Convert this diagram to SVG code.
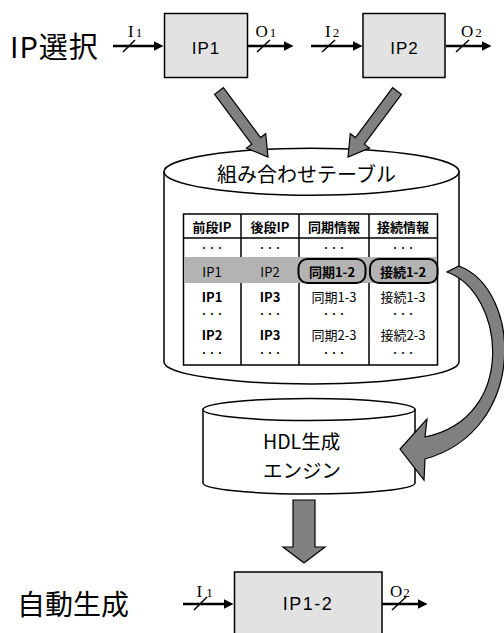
<svg xmlns="http://www.w3.org/2000/svg" width="504" height="633" viewBox="0 0 504 633">
<defs>
<marker id="ah" markerUnits="userSpaceOnUse" markerWidth="10" markerHeight="10" refX="4" refY="4.5" orient="auto" viewBox="0 0 9 9"><path d="M0,0 L9,4.5 L0,9 Z" fill="#000"/></marker>
</defs>
<style>
.box{fill:#e2e2e2;stroke:#000;stroke-width:1.5}
.cyl{fill:#fff;stroke:#000;stroke-width:1.5}
.big{fill:#808080;stroke:#000;stroke-width:1.2}
.wire{stroke:#000;stroke-width:2.5;fill:none;marker-end:url(#ah)}
.slash{stroke:#000;stroke-width:1.5}
.jp{font-family:"Noto Sans CJK JP","Liberation Sans",sans-serif;fill:#000;dominant-baseline:central}
.lab{font-family:"Liberation Sans",Arial,sans-serif;fill:#000;text-anchor:middle;dominant-baseline:central}
.ser{font-family:"Liberation Serif","Times New Roman",serif;font-size:17px;fill:#000}
.sub{font-size:13px}
.th{font-family:"Noto Sans CJK JP",sans-serif;font-size:13px;font-weight:bold;text-anchor:middle;dominant-baseline:central;fill:#000}
.tn{font-weight:normal}
.dot{font-size:10px;letter-spacing:3px}
.grid{stroke:#000;stroke-width:1.5;fill:none}
</style>
<rect width="504" height="633" fill="#fff"/>

<text class="jp" x="10" y="45" font-size="29" letter-spacing="1">IP選択</text>
<text class="jp" x="17" y="603" font-size="28">自動生成</text>

<g id="ip1">
<rect class="box" x="164.5" y="13.5" width="83" height="64"/>
<text class="lab" x="206" y="48.5" font-size="17" letter-spacing="1">IP1</text>
</g>
<g id="ip2">
<rect class="box" x="363" y="13.5" width="82" height="64"/>
<text class="lab" x="404.5" y="48.5" font-size="17" letter-spacing="1">IP2</text>
</g>

<g id="table">
<path class="cyl" d="M164,171.7 L164,362 A147.5,22 0 0 0 459,362 L459,171.7 Z"/>
<ellipse class="cyl" cx="311.5" cy="171.7" rx="147.5" ry="23.5"/>
<text class="jp" x="306.5" y="173" font-size="20" text-anchor="middle">組み合わせテーブル</text>
<rect x="183.5" y="214" width="254" height="151" fill="#fff" stroke="#000" stroke-width="1.5"/>
<path class="grid" d="M183.5,238 H437.5 M241,214 V365 M299,214 V365 M369,214 V365"/>
<rect x="184" y="257" width="253" height="26" fill="#b3b3b3"/>
<rect x="298.5" y="259" width="67" height="24" rx="9" fill="#b3b3b3" stroke="#000" stroke-width="2"/>
<rect x="370" y="259" width="67.5" height="24" rx="9" fill="#b3b3b3" stroke="#000" stroke-width="2"/>
<g class="th">
<text x="212" y="226">前段IP</text><text x="270" y="226">後段IP</text><text x="334" y="226">同期情報</text><text x="403" y="226">接続情報</text>
<text class="dot" x="213.5" y="247">･･･</text><text class="dot" x="271.5" y="247">･･･</text><text class="dot" x="335.5" y="247">･･･</text><text class="dot" x="404.5" y="247">･･･</text>
<text class="tn" x="212" y="271">IP1</text><text class="tn" x="270" y="271">IP2</text><text x="332" y="271">同期1-2</text><text x="403" y="271">接続1-2</text>
<text x="212" y="296">IP1</text><text x="270" y="296">IP3</text><text class="tn" x="334" y="296">同期1-3</text><text class="tn" x="403" y="296">接続1-3</text>
<text class="dot" x="213.5" y="313">･･･</text><text class="dot" x="271.5" y="313">･･･</text><text class="dot" x="335.5" y="313">･･･</text><text class="dot" x="404.5" y="313">･･･</text>
<text x="212" y="334">IP2</text><text x="270" y="334">IP3</text><text class="tn" x="334" y="334">同期2-3</text><text class="tn" x="403" y="334">接続2-3</text>
<text class="dot" x="213.5" y="352">･･･</text><text class="dot" x="271.5" y="352">･･･</text><text class="dot" x="335.5" y="352">･･･</text><text class="dot" x="404.5" y="352">･･･</text>
</g>
</g>

<g id="hdl">
<path class="cyl" d="M203,409.5 L203,483 A106,11 0 0 0 415,483 L415,409.5 Z"/>
<ellipse class="cyl" cx="309" cy="409.5" rx="106" ry="11"/>
<text class="jp" x="263" y="440.5" font-size="19.5">HDL生成</text>
<text class="jp" x="263" y="469" font-size="19.5">エンジン</text>
</g>

<g id="ip12">
<rect class="box" x="234.5" y="572" width="147.5" height="70"/>
<text class="lab" x="308" y="604" font-size="18" letter-spacing="1.5">IP1-2</text>
</g>

<g id="connectors">
<line class="wire" x1="113" y1="46" x2="158" y2="46"/>
<line class="wire" x1="248" y1="46" x2="288" y2="46"/>
<line class="wire" x1="311" y1="46" x2="357" y2="46"/>
<line class="wire" x1="446" y1="46" x2="486" y2="46"/>
<line class="wire" x1="183" y1="604" x2="228" y2="604"/>
<line class="wire" x1="382" y1="604" x2="422" y2="604"/>
<path class="slash" d="M123,52 L135,40 M257,52 L270,40 M322,52 L335,40 M456,52 L469,40 M194,610 L207,597 M392,610 L406,597"/>
<polygon class="big" points="223.4,87.7 260.5,137.6 265.7,133.7 268,157 246.5,148.1 251.7,144.2 214.6,94.3"/>
<polygon class="big" points="392.6,87.7 355.5,137.6 350.3,133.7 348,157 369.5,148.1 364.3,144.2 401.4,94.3"/>
<path class="big" d="M447,272 C505,293 518,418 425,437 L427,419 L400,449 L424,480 L425,459 C528,430 522,290 459,266 Z"/>
<polygon class="big" points="293,500 315,500 315,547 325,547 304,563 283,547 293,547"/>
</g>

<g id="labels">
<text class="ser" x="128" y="37">I<tspan class="sub" dx="2">1</tspan></text>
<text class="ser" x="255.5" y="37">O<tspan class="sub" dx="2">1</tspan></text>
<text class="ser" x="325" y="37">I<tspan class="sub" dx="2">2</tspan></text>
<text class="ser" x="461" y="37">O<tspan class="sub" dx="2">2</tspan></text>
<text class="ser" x="196.5" y="597">I<tspan class="sub" dx="4">1</tspan></text>
<text class="ser" x="390" y="597">O<tspan class="sub" dx="1">2</tspan></text>
</g>
</svg>
